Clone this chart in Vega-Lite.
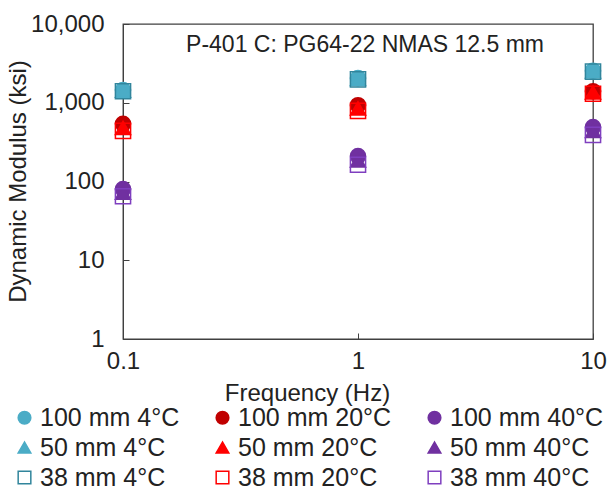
{
  "$schema": "https://vega.github.io/schema/vega-lite/v6.json",
  "width": 470,
  "height": 315,
  "autosize": {"type": "none"},
  "padding": {"left": 123, "top": 24, "right": 22, "bottom": 152},
  "background": "white",
  "config": {
    "view": {"stroke": "#404040", "strokeWidth": 1.3},
    "font": "Liberation Sans"
  },
  "title": {
    "text": "P-401 C: PG64-22 NMAS 12.5 mm",
    "orient": "top",
    "anchor": "middle",
    "offset": -45,
    "dx": 7,
    "fontSize": 23,
    "fontWeight": "normal",
    "font": "Liberation Sans",
    "color": "#222222"
  },
  "data": {
    "values": [
      {"series": "100 mm 4°C", "freq": 0.1, "modulus": 1450},
      {"series": "100 mm 4°C", "freq": 1, "modulus": 2050},
      {"series": "100 mm 4°C", "freq": 10, "modulus": 2550},
      {"series": "100 mm 20°C", "freq": 0.1, "modulus": 540},
      {"series": "100 mm 20°C", "freq": 1, "modulus": 930},
      {"series": "100 mm 20°C", "freq": 10, "modulus": 1400},
      {"series": "100 mm 40°C", "freq": 0.1, "modulus": 80},
      {"series": "100 mm 40°C", "freq": 1, "modulus": 210},
      {"series": "100 mm 40°C", "freq": 10, "modulus": 490},
      {"series": "50 mm 4°C", "freq": 0.1, "modulus": 1420},
      {"series": "50 mm 4°C", "freq": 1, "modulus": 2000},
      {"series": "50 mm 4°C", "freq": 10, "modulus": 2500},
      {"series": "50 mm 20°C", "freq": 0.1, "modulus": 480},
      {"series": "50 mm 20°C", "freq": 1, "modulus": 850},
      {"series": "50 mm 20°C", "freq": 10, "modulus": 1350},
      {"series": "50 mm 40°C", "freq": 0.1, "modulus": 72},
      {"series": "50 mm 40°C", "freq": 1, "modulus": 185},
      {"series": "50 mm 40°C", "freq": 10, "modulus": 440},
      {"series": "38 mm 4°C", "freq": 0.1, "modulus": 1400},
      {"series": "38 mm 4°C", "freq": 1, "modulus": 1980},
      {"series": "38 mm 4°C", "freq": 10, "modulus": 2480},
      {"series": "38 mm 20°C", "freq": 0.1, "modulus": 440},
      {"series": "38 mm 20°C", "freq": 1, "modulus": 790},
      {"series": "38 mm 20°C", "freq": 10, "modulus": 1300},
      {"series": "38 mm 40°C", "freq": 0.1, "modulus": 65},
      {"series": "38 mm 40°C", "freq": 1, "modulus": 163},
      {"series": "38 mm 40°C", "freq": 10, "modulus": 390}
    ]
  },
  "mark": {"type": "point", "filled": true, "size": 230, "strokeWidth": 1.5, "opacity": 1},
  "encoding": {
    "x": {
      "field": "freq",
      "type": "quantitative",
      "scale": {"type": "log", "domain": [0.1, 10]},
      "axis": {
        "title": "Frequency (Hz)",
        "titleFontSize": 24,
        "titleFontWeight": "normal",
        "titleColor": "#222222",
        "titleX": 184,
        "titleY": 54,
        "titleBaseline": "middle",
        "values": [0.1, 1, 10],
        "labelExpr": "datum.value < 0.5 ? '0.1' : datum.value < 5 ? '1' : '10'",
        "labelFontSize": 24,
        "labelColor": "#222222",
        "labelPadding": 16,
        "labelFlush": false,
        "labelOverlap": false,
        "tickSize": -6,
        "tickColor": "#404040",
        "domainColor": "#404040",
        "grid": false
      }
    },
    "y": {
      "field": "modulus",
      "type": "quantitative",
      "scale": {"type": "log", "domain": [1, 10000]},
      "axis": {
        "title": "Dynamic Modulus (ksi)",
        "titleFontSize": 24,
        "titleFontWeight": "normal",
        "titleColor": "#222222",
        "titleX": -105,
        "titleY": 157,
        "titleBaseline": "middle",
        "values": [1, 10, 100, 1000, 10000],
        "format": ",",
        "labelFontSize": 24,
        "labelColor": "#222222",
        "labelPadding": 25,
        "labelFlush": false,
        "labelOverlap": false,
        "tickSize": -6,
        "tickColor": "#404040",
        "domainColor": "#404040",
        "grid": false
      }
    },
    "shape": {
      "field": "series",
      "type": "nominal",
      "sort": null,
      "scale": {
        "domain": ["100 mm 4°C", "100 mm 20°C", "100 mm 40°C", "50 mm 4°C", "50 mm 20°C", "50 mm 40°C", "38 mm 4°C", "38 mm 20°C", "38 mm 40°C"],
        "range": ["circle", "circle", "circle", "triangle-up", "triangle-up", "triangle-up", "square", "square", "square"]
      },
      "legend": {
        "orient": "none",
        "legendX": -111,
        "legendY": 381,
        "direction": "horizontal",
        "columns": 3,
        "columnPadding": 30,
        "rowPadding": 4,
        "title": null,
        "labelFontSize": 25,
        "labelFont": "Liberation Sans",
        "labelColor": "#222222",
        "labelLimit": 0,
        "labelOffset": 3,
        "symbolSize": 160,
        "symbolStrokeWidth": 1.5
      }
    },
    "fill": {
      "field": "series",
      "type": "nominal",
      "sort": null,
      "scale": {
        "domain": ["100 mm 4°C", "100 mm 20°C", "100 mm 40°C", "50 mm 4°C", "50 mm 20°C", "50 mm 40°C", "38 mm 4°C", "38 mm 20°C", "38 mm 40°C"],
        "range": ["#4BACC6", "#C00000", "#7030A0", "#4BACC6", "#FF0000", "#7030A0", "transparent", "transparent", "transparent"]
      }
    },
    "stroke": {
      "field": "series",
      "type": "nominal",
      "sort": null,
      "scale": {
        "domain": ["100 mm 4°C", "100 mm 20°C", "100 mm 40°C", "50 mm 4°C", "50 mm 20°C", "50 mm 40°C", "38 mm 4°C", "38 mm 20°C", "38 mm 40°C"],
        "range": ["#4BACC6", "#C00000", "#7030A0", "#4BACC6", "#FF0000", "#7030A0", "#31859C", "#FF0000", "#7F3FBF"]
      }
    }
  }
}
